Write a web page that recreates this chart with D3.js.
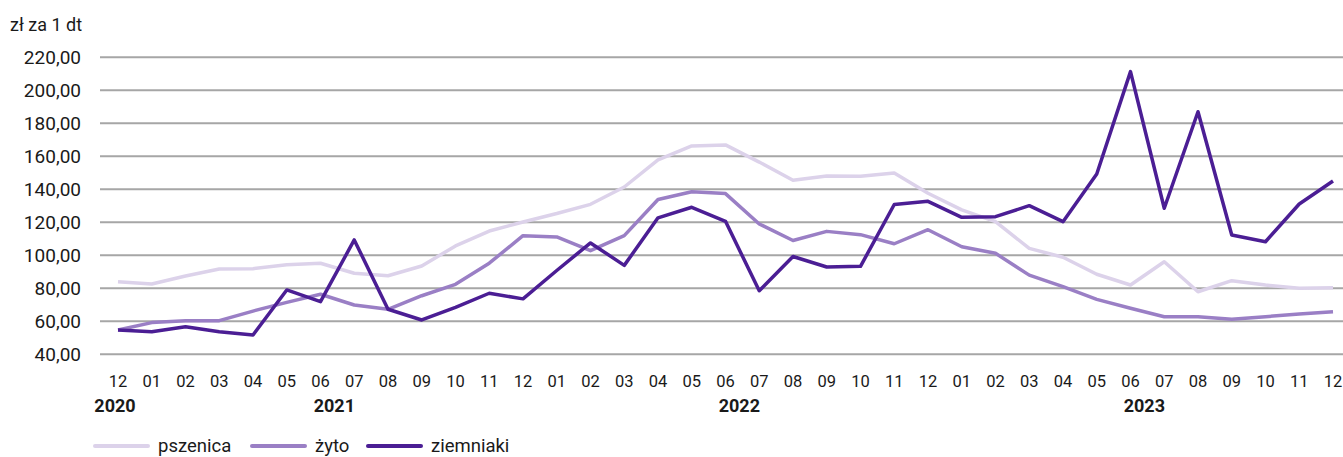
<!DOCTYPE html>
<html>
<head>
<meta charset="utf-8">
<script src="https://d3js.org/d3.v7.min.js"></script>
<style>
  body { margin: 0; background: #fff; }
  text { font-family: Roboto, sans-serif; fill: #1a1a1a; }
</style>
</head>
<body>
<div class="main-content"></div>
<script>
const months = ['12', '01', '02', '03', '04', '05', '06', '07', '08', '09', '10', '11', '12',
  '01', '02', '03', '04', '05', '06', '07', '08', '09', '10', '11', '12',
  '01', '02', '03', '04', '05', '06', '07', '08', '09', '10', '11', '12']
// year label, first and last month index of its group
const years = [
  { label: '2020', from: 0, to: 0 },
  { label: '2021', from: 1, to: 12 },
  { label: '2022', from: 13, to: 24 },
  { label: '2023', from: 25, to: 36 }
]
const yTicks = [40, 60, 80, 100, 120, 140, 160, 180, 200, 220]

const pszenica = [84.0, 82.6, 87.5, 91.7, 91.9, 94.3, 95.2, 89.1, 87.6, 93.5, 105.7, 114.7, 120.2,
  125.3, 130.9, 141.4, 157.9, 166.3, 166.9, 156.5, 145.5, 148.1, 147.9, 149.9, 137.6,
  127.5, 120.4, 104.2, 98.8, 88.5, 82.0, 96.1, 77.9, 84.6, 82.0, 80.0, 80.4]
const zyto = [54.7, 59.2, 60.4, 60.4, 66.2, 71.5, 76.4, 69.9, 67.3, 75.5, 82.4, 95.2, 111.9,
  111.1, 102.8, 111.9, 133.8, 138.5, 137.4, 119.0, 109.0, 114.5, 112.5, 107.0, 115.5,
  105.2, 101.2, 88.0, 81.0, 73.3, 67.9, 62.8, 62.8, 61.2, 62.8, 64.4, 65.8]
const ziemniaki = [54.7, 53.7, 56.7, 53.7, 51.7, 79.0, 71.9, 109.3, 67.3, 60.8, 68.5, 77.0, 73.6,
  90.8, 107.5, 93.9, 122.7, 129.1, 120.6, 78.5, 99.3, 92.9, 93.3, 130.8, 132.7,
  123.0, 123.4, 130.1, 120.4, 149.3, 211.3, 128.5, 187.0, 112.3, 108.2, 131.1, 145.0]

const series = [
  { name: 'pszenica', values: pszenica, color: '#dcd2ea' },
  { name: 'żyto', values: zyto, color: '#9a7fc5' },
  { name: 'ziemniaki', values: ziemniaki, color: '#4b1e94' }
]

const width = 1343
const height = 457
const gridXLeft = 100
const gridXRight = 1343

var x = d3.scaleLinear().domain([0, months.length - 1]).range([118, 1333])
var y = d3.scaleLinear().domain([40, 220]).range([354.3, 57.3])

var svg = d3.select('.main-content')
  .append('svg')
  .attr('width', width)
  .attr('height', height)

svg.append('text')
  .attr('x', 10)
  .attr('y', 25)
  .attr('dy', '0.35em')
  .style('font-size', '18px')
  .text('zł za 1 dt')

svg.selectAll('.grid')
  .data(yTicks)
  .enter()
  .append('line')
  .attr('class', 'grid')
  .attr('x1', gridXLeft)
  .attr('x2', gridXRight)
  .attr('y1', function(d) { return y(d) })
  .attr('y2', function(d) { return y(d) })
  .attr('stroke', '#a6a6a6')
  .attr('stroke-width', 2)

svg.selectAll('.yLabel')
  .data(yTicks)
  .enter()
  .append('text')
  .attr('class', 'yLabel')
  .attr('x', 81)
  .attr('y', function(d) { return y(d) })
  .attr('dy', '0.35em')
  .attr('text-anchor', 'end')
  .style('font-size', '19px')
  .text(function(d) { return d3.format('.2f')(d).replace('.', ',') })

svg.selectAll('.monthLabel')
  .data(months)
  .enter()
  .append('text')
  .attr('class', 'monthLabel')
  .attr('x', function(d, i) { return x(i) })
  .attr('y', 381)
  .attr('dy', '0.35em')
  .attr('text-anchor', 'middle')
  .style('font-size', '16.5px')
  .text(function(d) { return d })

svg.selectAll('.yearLabel')
  .data(years)
  .enter()
  .append('text')
  .attr('class', 'yearLabel')
  .attr('x', function(d) { return x((d.from + d.to) / 2) - 3 })
  .attr('y', 406)
  .attr('dy', '0.35em')
  .attr('text-anchor', 'middle')
  .style('font-size', '18px')
  .style('font-weight', 'bold')
  .text(function(d) { return d.label })

var line = d3.line()
  .x(function(d, i) { return x(i) })
  .y(function(d) { return y(d) })

svg.selectAll('.series')
  .data(series)
  .enter()
  .append('path')
  .attr('class', 'series')
  .attr('d', function(d) { return line(d.values) })
  .attr('fill', 'none')
  .attr('stroke', function(d) { return d.color })
  .attr('stroke-width', 3.5)
  .attr('stroke-linejoin', 'round')

// legend
const legendX = [95, 252, 368]
var legend = svg.selectAll('.legend')
  .data(series)
  .enter()
  .append('g')
  .attr('class', 'legend')
  .attr('transform', function(d, i) { return 'translate(' + legendX[i] + ',446)' })
legend.append('line')
  .attr('x1', 0)
  .attr('x2', 53)
  .attr('stroke', function(d) { return d.color })
  .attr('stroke-width', 4)
  .attr('stroke-linecap', 'round')
legend.append('text')
  .attr('x', 63)
  .attr('dy', '0.35em')
  .style('font-size', '18.5px')
  .text(function(d) { return d.name })
</script>
</body>
</html>
